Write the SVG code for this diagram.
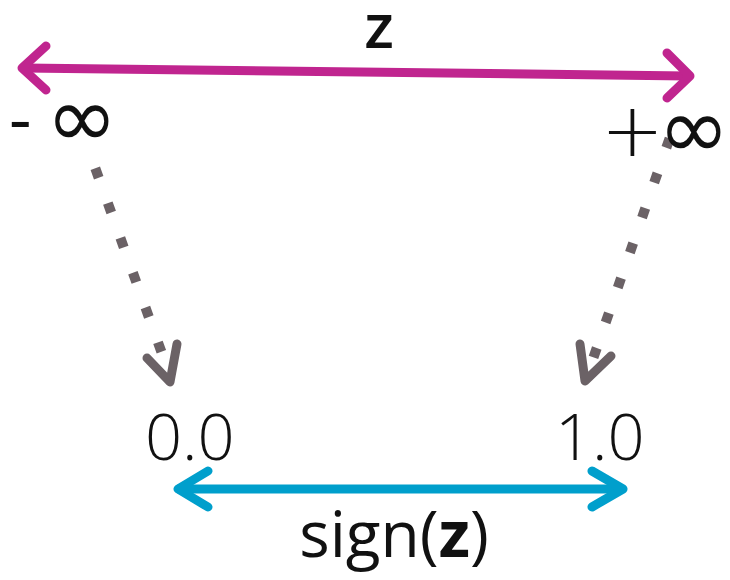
<svg xmlns="http://www.w3.org/2000/svg" width="730" height="580" viewBox="0 0 730 580">
<style>
.t{font-family:"Open Sans","Noto Sans","Liberation Sans",sans-serif;fill:#111}
.d{font-family:"DejaVu Sans","Liberation Sans",sans-serif;fill:#111}
.mag{stroke:#C0258F;stroke-width:9;fill:none;stroke-linecap:round;stroke-linejoin:round}
.cy{stroke:#009FCC;stroke-width:9;fill:none;stroke-linecap:round;stroke-linejoin:round}
.dot{stroke:#6B6266;stroke-width:10;fill:none;stroke-dasharray:10 27}
.gh{stroke:#6B6266;stroke-width:9;fill:none;stroke-linecap:round;stroke-linejoin:round}
</style>
<g id="connectors">
<g id="z-axis">
<line class="mag" x1="24" y1="68" x2="688" y2="76"/>
<polyline class="mag" points="46,46 22,68 46,90"/>
<polyline class="mag" points="667,53 690,76 667,98"/>
</g>
<g id="sign-axis">
<line class="cy" x1="179" y1="489" x2="621" y2="489"/>
<polyline class="cy" points="208,471 178,489 208,507"/>
<polyline class="cy" points="592,471 623,489 592,507"/>
</g>
<g id="left-map">
<line class="dot" x1="95.3" y1="168.3" x2="161.7" y2="352.7"/>
<polyline class="gh" points="147,358 170,382 177,344"/>
</g>
<g id="right-map">
<line class="dot" x1="669.6" y1="138.3" x2="593.4" y2="357.7"/>
<polyline class="gh" points="580,344 585,381 611,356"/>
</g>
</g>
<g id="label-z"><text class="t" x="379" y="48" font-size="62" font-weight="600" text-anchor="middle">z</text></g>
<g id="label-neginf"><text class="t" x="9" y="143" font-size="70">-</text><text class="d" x="46" y="147" font-size="86">∞</text></g>
<g id="label-posinf"><text class="d" x="601" y="156" font-size="75" font-weight="200">+</text><text class="d" x="658" y="158" font-size="86">∞</text></g>
<g id="label-0"><text class="t" x="145" y="460" font-size="65" font-weight="300">0.0</text></g>
<g id="label-1"><text class="t" x="555" y="460" font-size="65" font-weight="300">1.0</text></g>
<g id="label-sign"><text class="t" x="394" y="557" font-size="64" text-anchor="middle">sign(<tspan font-weight="700">z</tspan>)</text></g>
</svg>
